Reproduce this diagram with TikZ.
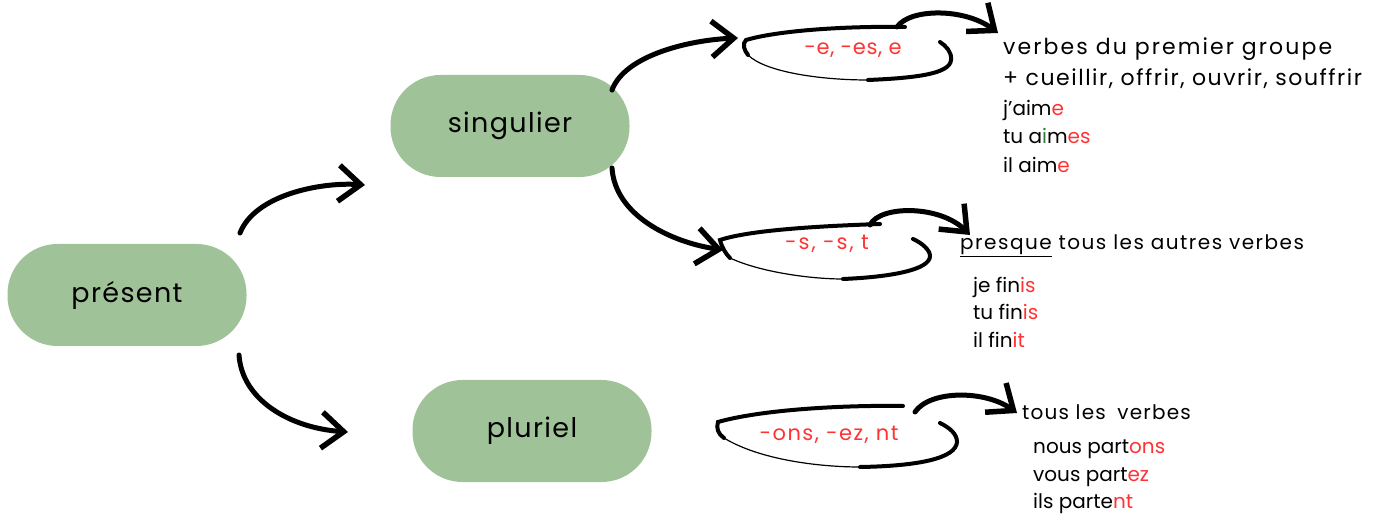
\documentclass[tikz,border=0pt]{standalone}
\usepackage{fontspec}
\setmainfont{Poppins}
\usetikzlibrary{arrows.meta}
\definecolor{nodegreen}{RGB}{160,194,152}
\definecolor{endred}{RGB}{255,51,51}
\definecolor{igreen}{RGB}{46,125,50}
\tikzset{
  tense/.style={rounded corners=50pt, fill=nodegreen, minimum width=239pt, minimum height=102pt, inner sep=0pt, font=\fontsize{27}{30}\selectfont\addfontfeatures{LetterSpace=5}},
  conn/.style={line width=5pt, line cap=round, -{Straight Barb[length=22pt,width=36pt,line width=5.5pt]}},
  loopthick/.style={line width=4pt, line cap=round},
  loopthin/.style={line width=1.2pt, line cap=round},
  txt/.style={anchor=base west, inner sep=0pt, font=\fontsize{20}{24}\selectfont},
  lab/.style={anchor=base, inner sep=0pt, text=endred, font=\fontsize{21}{24}\selectfont},
}
\newcommand{\rd}[1]{\textcolor{endred}{#1}}
\newcommand{\lsp}[1]{\addfontfeatures{LetterSpace=#1}}
\begin{document}
\begin{tikzpicture}[x=1pt,y=-1pt]
\useasboundingbox (0,0) rectangle (1384,518);
% main nodes
\node[tense] (pres) at (127,295) {présent};
\node[tense] (sing) at (510,126) {singulier};
\node[tense] (plur) at (532,431) {pluriel};
% connector ends
\coordinate (a1s) at (240,233); \coordinate (a1e) at (365,185);
\coordinate (a2s) at (239,355); \coordinate (a2e) at (348,432);
\coordinate (a3s) at (612,90);  \coordinate (a3e) at (738,38);
\coordinate (a4s) at (612,168); \coordinate (a4e) at (723,250);
\coordinate (b1s) at (897,27);  \coordinate (b1e) at (998,33);
\coordinate (b2s) at (870,225); \coordinate (b2e) at (970,235);
\coordinate (b3s) at (915,412); \coordinate (b3e) at (1017,413);
% arrows
\draw[conn] (a1s) .. controls (255,195) and (320,182) .. (a1e);
\draw[conn] (a2s) .. controls (242,400) and (290,428) .. (a2e);
\draw[conn] (a3s) .. controls (625,55) and (690,40) .. (a3e);
\draw[conn] (a4s) .. controls (615,215) and (670,242) .. (a4e);
% loop 1
\draw[loopthick] (905,27) .. controls (850,26) and (780,30) .. (746,40) .. controls (742,44) and (744,50) .. (748,55);
\draw[loopthin] (748,55) .. controls (765,72) and (820,80) .. (868,80);
\draw[loopthick] (868,80) .. controls (915,78) and (950,74) .. (951,60) .. controls (952,52) and (946,46) .. (940,42);
\node[lab] (l1) at (853,55) {\lsp{3}-e, -es, e};
% loop 2
\draw[loopthick] (880,224) .. controls (820,226) and (750,230) .. (720,240) .. controls (722,248) and (726,254) .. (730,258);
\draw[loopthin] (730,258) .. controls (760,272) and (810,279) .. (843,279);
\draw[loopthick] (843,279) .. controls (890,277) and (930,270) .. (930,256) .. controls (930,250) and (922,243) .. (913,239);
\node[lab] (l2) at (827,250) {\lsp{9}-s, -s, t};
% loop 3
\draw[loopthick] (903,406) .. controls (840,405) and (760,410) .. (718,422) .. controls (716,428) and (718,434) .. (724,438);
\draw[loopthin] (724,438) .. controls (760,460) and (820,467) .. (860,467);
\draw[loopthick] (860,467) .. controls (920,466) and (956,458) .. (957,442) .. controls (957,434) and (950,428) .. (940,423);
\node[lab] (l3) at (829,440) {\lsp{7}-ons, -ez, nt};
% loop arrows
\draw[conn] (b1s) .. controls (910,8) and (965,8) .. (b1e);
\draw[conn] (b2s) .. controls (880,205) and (940,205) .. (b2e);
\draw[conn] (b3s) .. controls (930,390) and (985,390) .. (b3e);
% text block 1
\node[txt] (t11) at (1003,55) {\fontsize{22}{24}\selectfont\lsp{9.5}verbes du premier groupe};
\node[txt] (t12) at (1003,86) {\fontsize{22}{24}\selectfont\lsp{7}+ cueillir, offrir, ouvrir, souffrir};
\node[txt] (t13) at (1003,116) {j'aim\rd{e}};
\node[txt] (t14) at (1003,144) {tu a\textcolor{igreen}{i}m\rd{es}};
\node[txt] (t15) at (1003,173) {il aim\rd{e}};
% text block 2
\node[txt] (t21) at (960,250) {\lsp{7.5}\underline{presque} tous les autres verbes};
\node[txt] (t22) at (973,293) {je fin\rd{is}};
\node[txt] (t23) at (973,320) {tu fin\rd{is}};
\node[txt] (t24) at (973,348) {il fin\rd{it}};
% text block 3
\node[txt] (t31) at (1022,420) {\lsp{6}tous les\hspace{0.25em} verbes};
\node[txt] (t32) at (1033,453) {nous part\rd{ons}};
\node[txt] (t33) at (1033,481) {vous part\rd{ez}};
\node[txt] (t34) at (1033,508) {ils parte\rd{nt}};
\end{tikzpicture}
\end{document}
